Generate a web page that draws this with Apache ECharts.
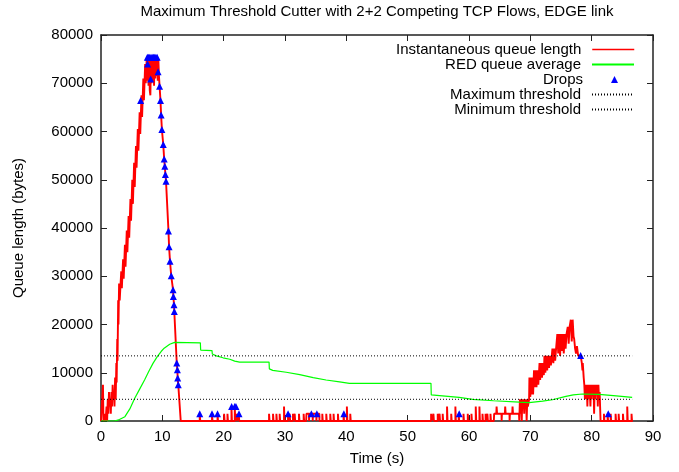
<!DOCTYPE html>
<html><head><meta charset="utf-8">
<script src="https://cdn.jsdelivr.net/npm/echarts@6/dist/echarts.min.js"></script>
<style>html,body{margin:0;padding:0;background:#fff}#c{width:679px;height:472px}</style>
</head><body><div id="c"></div>
<script>
const titleText = 'Maximum Threshold Cutter with 2+2 Competing TCP Flows, EDGE link';
const seriesNames = ['Instantaneous queue length', 'RED queue average', 'Drops', 'Maximum threshold', 'Minimum threshold'];
const xLabel = 'Time (s)';
const yLabel = 'Queue length (bytes)';

// Instantaneous queue: bursts and blocks (time s, bytes)
const queueT = [0,0.3,0.32,0.4,0.6,0.65,0.75,0.9,1.0,1.1,1.2,1.3,1.4,1.5,1.6,1.7,1.8,1.9,2.0,2.1,2.2,2.3,2.4,2.5,2.55,2.65,2.7,2.8,2.85,2.95,3.05,3.3,3.4,3.6,3.7,3.9,4.0,4.2,4.3,4.5,4.6,4.8,4.9,5.1,5.2,5.4,5.5,5.7,5.8,6.0,6.1,6.3,6.4,6.6,6.7,6.9,7.0,7.2,7.3,7.45,7.55,7.65,7.75,7.85,7.95,8.05,8.15,8.25,8.35,8.45,8.55,8.65,8.75,8.85,8.95,9.05,9.15,9.25,9.35,9.45,9.55,9.7,9.8,9.93,10.15,10.3,10.4,10.5,10.6,11.0,11.1,11.25,11.45,11.75,11.8,11.9,11.95,12.35,12.45,12.5,12.6,13.0,
  33.45,33.5,33.9,33.92,33.97,34.5,34.52,34.57,35.1,35.12,35.17,35.6,35.62,
  64.05,64.1,64.45,64.5,64.58,65.3,65.32,65.37,65.85,65.9,65.98,66.6,66.62,66.67,67.05,67.1,67.18,68.15,68.2,
  68.3,68.4,68.5,68.6,68.7,68.8,68.9,69.0,69.1,69.2,69.3,69.4,69.5,69.6,69.8,69.85,70.0,70.1,70.2,70.3,70.45,70.6,70.7,70.85,71.0,71.15,71.3,71.5,71.6,71.75,71.9,72.05,72.2,72.3,72.45,72.6,72.75,72.9,73.05,73.2,73.35,73.5,73.6,73.75,73.9,74.05,74.2,74.4,74.55,74.7,74.85,75.0,75.15,75.3,75.45,75.6,75.75,75.9,76.1,76.25,76.4,76.6,76.75,76.9,77.05,77.15,77.3,77.45,77.6,77.8,78.0,78.2,78.4,78.5,78.55,78.7,78.8,78.9,79.0,79.1,79.2,79.3,79.4,79.5,79.6,79.7,79.8,79.9,80.0,80.1,80.2,80.3,80.4,80.5,80.6,80.7,80.8,80.9,81.0,81.1,81.2,81.3,81.45,86.7];
const queueV = [0,0,7500,0,0,1500,0,3000,0,4500,1500,6000,3000,4500,1500,6000,3000,7500,4500,6000,3000,9000,4500,12000,8000,17000,12500,25000,20000,28500,25000,31000,27500,33500,29500,36500,32000,39500,35000,42500,38000,46000,41500,50000,45000,53500,48500,57000,52500,60500,56000,64000,59500,67500,63000,71000,66500,74000,70000,75000,70500,75000,69500,75000,68500,67500,75000,70000,75000,70500,75000,69500,75000,71000,75000,71500,75000,70500,75000,71500,69400,66400,63400,60400,57300,54300,52800,51100,49700,39400,36100,33100,30100,27200,25800,24100,22700,12000,10600,8900,7500,0,
  0,1500,1500,0,1500,1500,0,1500,1500,0,1500,1500,0,
  0,1500,1500,3000,1500,1500,0,1500,1500,3000,1500,1500,0,1500,1500,3000,1500,1500,0,
  4500,1500,4500,0,4500,3000,4500,1500,4500,3000,4500,0,4500,3000,4500,9000,5000,9000,5500,9000,5500,10500,7000,10500,7000,10500,7500,12000,8500,12000,9000,12000,9500,13500,10000,13500,10500,13500,11000,13500,11500,13500,15000,12000,15000,12500,15000,18000,14000,18000,13500,18000,14500,18000,14000,18000,15000,18000,19500,16000,19500,21000,16500,21000,17500,17000,15000,14000,15500,13500,13800,13600,12000,10500,12000,9000,7500,4500,7500,4500,7500,3000,7500,4500,7500,6000,3000,7500,4500,7500,6000,7500,1500,7500,4500,7500,6000,7500,3000,7500,4500,6000,0,0];

// Isolated one/two-packet queue spikes (time s, bytes)
const spikeT = [16.1,18.1,19.0,20.07,20.62,21.27,21.81,22.08,22.46,27.4,28.05,28.6,29.13,29.84,30.49,30.76,31.3,31.58,32.28,33.04,36.08,36.73,37.38,37.92,38.63,39.55,40.09,40.64,53.82,54.2,54.9,55.2,55.71,56.42,57.1,57.78,58.32,59.1,59.8,60.4,61.1,61.7,62.2,62.7,63.0,63.5,82.0,82.6,83.1,83.9,84.4,85.1,85.8,86.5];
const spikeV = [1500,1500,1500,1500,1500,3000,3000,1500,1500,1500,1500,1500,1500,3000,1500,1500,1500,1500,1500,1500,1500,1500,1500,1500,1500,1500,3000,1500,1500,1500,1500,1500,1500,3000,1500,3000,1500,1500,1500,1500,3000,3000,1500,1500,1500,1500,1500,1500,1500,1500,1500,1500,3000,1500];

// RED average queue (time s, bytes)
const avgT = [0,2.2,3.0,3.9,4.7,5.5,6.3,7.1,7.8,8.5,9.2,9.8,10.3,10.6,11.2,12.0,16.2,16.25,18.1,18.15,18.8,19.9,21.0,21.8,22.6,27.4,27.45,28.0,30.2,32.4,34.6,36.7,38.9,40.5,53.8,53.85,58.4,60.6,64.0,68.2,69.8,72.0,73.6,75.8,77.0,78.5,81.2,84.0,86.6];
const avgV = [0,0,300,900,2500,4700,6600,8500,10300,12000,13400,14400,15100,15400,15900,16300,16200,14700,14600,13900,13500,13100,12800,12400,12200,12200,10800,10500,10100,9600,9000,8500,8100,7800,7800,5400,4900,4500,4200,3900,3800,4100,4400,5100,5400,5600,5500,5200,4900];

// Packet drops (time s, queue bytes)
const dropT = [6.46,7.6,7.55,7.75,7.95,8.15,8.35,8.55,8.75,8.95,9.15,8.1,9.3,9.55,9.7,9.8,9.93,10.15,10.3,10.4,10.5,10.6,11.0,11.1,11.25,11.45,11.75,11.8,11.9,11.95,12.35,12.45,12.5,12.6,16.1,18.1,19.0,21.3,21.8,22.0,22.5,30.5,34.3,35.2,39.6,58.4,78.2,82.7];
const dropV = [66400,74000,75400,75400,75400,75400,75400,75400,75400,75400,75400,70900,72400,69400,66400,63400,60400,57300,54300,52800,51100,49700,39400,36100,33100,30100,27200,25800,24100,22700,12000,10600,8900,7500,1500,1500,1500,3000,3000,3000,1500,1500,1500,1500,1500,1500,13600,1500];

const maxThreshold = 13500;
const minThreshold = 4500;
const thresholdSpan = [0, 86.6];

// ---- build series data ----
const pts = [];
queueT.forEach((t, i) => pts.push({t, v: queueV[i]}));
spikeT.forEach((t, i) => {
  pts.push({t, v: 0}, {t, v: spikeV[i]}, {t: t + 0.08, v: spikeV[i]}, {t: t + 0.08, v: 0});
});
pts.sort((a, b) => a.t - b.t);
const queueData = pts.map(p => [p.t, p.v]);
const avgData = avgT.map((t, i) => [t, avgV[i]]);
const dropData = dropT.map((t, i) => [t, dropV[i]]);
const maxData = thresholdSpan.map(t => [t, maxThreshold]);
const minData = thresholdSpan.map(t => [t, minThreshold]);

const FONT = 'Liberation Sans';
const FS = 15;
const axisLineStyle = {color: '#222', width: 1.5};
const tickStyle = {show: true, inside: true, length: 6, lineStyle: {color: '#222', width: 1}};

function xAx(pos, labels) {
  return {type: 'value', min: 0, max: 90, interval: 10, position: pos,
    axisLine: {show: true, onZero: false, lineStyle: axisLineStyle},
    axisTick: tickStyle, splitLine: {show: false},
    axisLabel: {show: labels, color: '#000', fontFamily: FONT, fontSize: FS, margin: 8},
    name: labels ? xLabel : '', nameLocation: 'middle', nameGap: 30,
    nameTextStyle: {color: '#000', fontFamily: FONT, fontSize: FS}};
}
function yAx(pos, labels) {
  return {type: 'value', min: 0, max: 80000, interval: 10000, position: pos,
    axisLine: {show: true, onZero: false, lineStyle: axisLineStyle},
    axisTick: tickStyle, splitLine: {show: false},
    axisLabel: {show: labels, color: '#000', fontFamily: FONT, fontSize: FS, margin: 8,
      formatter: v => String(v)},
    name: labels ? yLabel : '', nameLocation: 'middle', nameGap: 75, nameRotate: 90,
    nameTextStyle: {color: '#000', fontFamily: FONT, fontSize: FS}};
}

const legendRows = [49, 64, 79, 94, 109];
const legends = seriesNames.map((n, i) => {
  const isDrop = i === 2;
  return {
    data: [isDrop ? {name: n, icon: 'triangle'} : n],
    orient: 'vertical', right: isDrop ? 61 : 44, top: legendRows[i] - 7, align: 'right', padding: 0,
    itemWidth: isDrop ? 7 : 42, itemHeight: isDrop ? 7 : 14, selectedMode: false,
    itemStyle: isDrop ? {} : {opacity: 0},
    lineStyle: i === 0 ? {width: 1.5} : {},
    textStyle: {color: '#000', fontFamily: FONT, fontSize: FS, padding: [0, isDrop ? 23 : 6, 0, 0]}
  };
});

const chart = echarts.init(document.getElementById('c'), null, {renderer: 'canvas'});
chart.setOption({
  animation: false,
  backgroundColor: '#fff',
  title: {text: titleText, left: 377, top: 4, padding: 0, textAlign: 'center',
    textStyle: {color: '#000', fontFamily: FONT, fontSize: FS, fontWeight: 'normal'}},
  legend: legends,
  grid: {left: 101, right: 26, top: 35, bottom: 51, containLabel: false},
  xAxis: [xAx('bottom', true), xAx('top', false)],
  yAxis: [yAx('left', true), yAx('right', false)],
  series: [
    {name: seriesNames[0], type: 'line', data: queueData, symbol: 'none', z: 2,
      lineStyle: {color: '#ff0000', width: 1.9}, itemStyle: {color: '#ff0000'}},
    {name: seriesNames[1], type: 'line', data: avgData, symbol: 'none', z: 3,
      lineStyle: {color: '#00ff00', width: 1.2}, itemStyle: {color: '#00ff00'}},
    {name: seriesNames[2], type: 'scatter', data: dropData, symbol: 'triangle', symbolSize: [7, 7], z: 4,
      itemStyle: {color: '#0000ff', opacity: 1}},
    {name: seriesNames[3], type: 'line', data: maxData, symbol: 'none', z: 5,
      lineStyle: {color: '#000', width: 1, type: [1, 2]}, itemStyle: {color: '#000'}},
    {name: seriesNames[4], type: 'line', data: minData, symbol: 'none', z: 5,
      lineStyle: {color: '#000', width: 1, type: [1, 2]}, itemStyle: {color: '#000'}}
  ]
});
</script></body></html>
